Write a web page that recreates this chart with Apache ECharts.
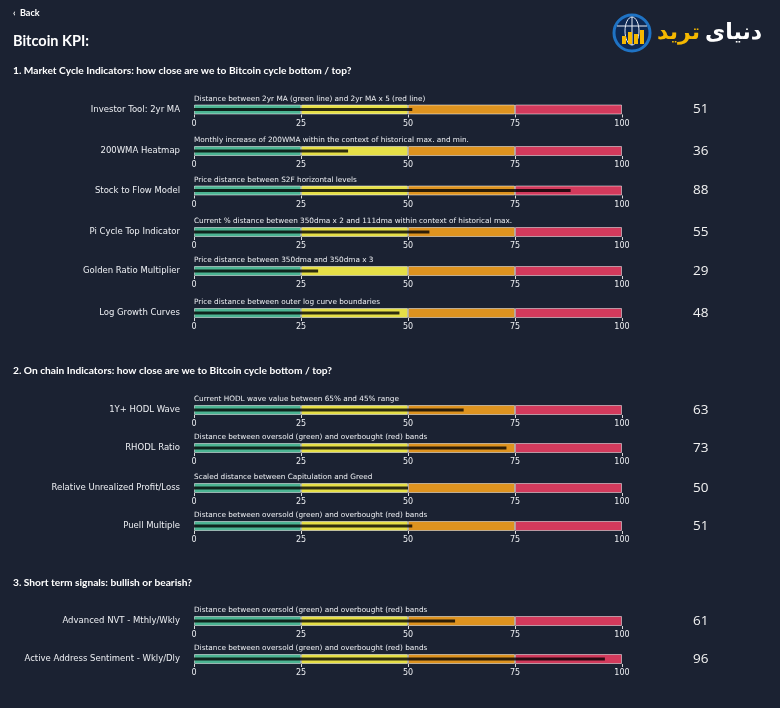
<!DOCTYPE html>
<html>
<head>
<meta charset="utf-8">
<script src="https://cdn.jsdelivr.net/npm/echarts@6/dist/echarts.min.js"></script>
<style>
html,body{margin:0;padding:0;background:#1b2232;}
#c{width:780px;height:708px;}
</style>
</head>
<body>
<div id="c"></div>
<script>
// ---- data ----
const categories = [
  'Investor Tool: 2yr MA', '200WMA Heatmap', 'Stock to Flow Model', 'Pi Cycle Top Indicator',
  'Golden Ratio Multiplier', 'Log Growth Curves',
  '1Y+ HODL Wave', 'RHODL Ratio', 'Relative Unrealized Profit/Loss', 'Puell Multiple',
  'Advanced NVT - Mthly/Wkly', 'Active Address Sentiment - Wkly/Dly'
];
const descriptions = [
  'Distance between 2yr MA (green line) and 2yr MA x 5 (red line)',
  'Monthly increase of 200WMA within the context of historical max. and min.',
  'Price distance between S2F horizontal levels',
  'Current % distance between 350dma x 2 and 111dma within context of historical max.',
  'Price distance between 350dma and 350dma x 3',
  'Price distance between outer log curve boundaries',
  'Current HODL wave value between 65% and 45% range',
  'Distance between oversold (green) and overbought (red) bands',
  'Scaled distance between Capitulation and Greed',
  'Distance between oversold (green) and overbought (red) bands',
  'Distance between oversold (green) and overbought (red) bands',
  'Distance between oversold (green) and overbought (red) bands'
];
const values = [51, 36, 88, 55, 29, 48, 63, 73, 50, 51, 61, 96];
const bandEdges = [0, 25, 50, 75, 100];
const tickLabels = ['0', '25', '50', '75', '100'];
const sectionTitles = [
  '1. Market Cycle Indicators: how close are we to Bitcoin cycle bottom / top?',
  '2. On chain Indicators: how close are we to Bitcoin cycle bottom / top?',
  '3. Short term signals: bullish or bearish?'
];

// ---- layout / style ----
const rowCenters = [109.5, 151, 190.5, 232, 271, 313, 410, 448, 488, 526, 621, 659];
const sectionY = [72, 372, 584];
const bandColors = ['#4cb593', '#e6df47', '#de931f', '#d33a5c'];
const txt = '#eceef2';

const grid = [], xAxis = [], yAxis = [], series = [];
rowCenters.forEach((c, i) => {
  grid.push({left: 194, width: 428, top: c - 5, height: 10});
  xAxis.push({
    gridIndex: i, type: 'value', min: 0, max: 100, interval: 25,
    axisLine: {show: false}, splitLine: {show: false},
    axisTick: {show: true, length: 3, lineStyle: {color: '#d8d8d8', width: 1}},
    axisLabel: {color: txt, fontSize: 8, margin: 5, fontFamily: 'DejaVu Sans',
      formatter: v => tickLabels[bandEdges.indexOf(v)]}
  });
  yAxis.push({
    gridIndex: i, type: 'category', data: [categories[i]], position: 'left',
    axisLine: {show: false}, axisTick: {show: false},
    axisLabel: {color: txt, fontSize: 8.5, margin: 14, fontFamily: 'DejaVu Sans'},
    name: descriptions[i], nameLocation: 'end', nameGap: 2,
    nameTextStyle: {align: 'left', verticalAlign: 'bottom', color: txt, fontSize: 7.3,
      fontFamily: 'DejaVu Sans', padding: [0, 0, 0, 0]}
  });
  yAxis.push({
    gridIndex: i, type: 'category', data: [String(values[i])], position: 'right',
    axisLine: {show: false}, axisTick: {show: false},
    axisLabel: {color: '#f2f2f2', fontSize: 13.5, margin: 71, fontFamily: 'Open Sans'}
  });
  for (let k = 1; k < bandEdges.length; k++) {
    series.push({
      type: 'bar', xAxisIndex: i, yAxisIndex: 2 * i, stack: 'band' + i,
      data: [bandEdges[k] - bandEdges[k - 1]], barWidth: 10, silent: true,
      itemStyle: {color: bandColors[k - 1], borderColor: 'rgba(255,255,255,0.5)', borderWidth: 1},
      z: 2
    });
  }
  series.push({
    type: 'bar', xAxisIndex: i, yAxisIndex: 2 * i + 1, data: [values[i]],
    barWidth: 3, silent: true, itemStyle: {color: 'rgba(0,0,0,0.8)'}, z: 4
  });
});

const graphic = [
  {type: 'text', left: 13, top: 9, style: {text: '‹  Back', fill: '#fff', font: 'bold 9px Lato'}},
  {type: 'text', left: 13, top: 34, style: {text: 'Bitcoin KPI:', fill: '#fff', font: 'bold 14.5px Lato'}},
];
sectionTitles.forEach((t, j) => graphic.push(
  {type: 'text', left: 13, top: sectionY[j] - 6, style: {text: t, fill: '#fff', font: 'bold 10.2px Lato'}}
));
// logo
graphic.push(
  {type: 'circle', shape: {cx: 632, cy: 33, r: 18}, style: {fill: '#0e2852', stroke: '#1f73c4', lineWidth: 3}},
  {type: 'ellipse', shape: {cx: 632, cy: 31, rx: 7, ry: 14}, style: {fill: 'none', stroke: '#e8eef8', lineWidth: 1}},
  {type: 'line', shape: {x1: 617, y1: 26, x2: 647, y2: 26}, style: {stroke: '#e8eef8', lineWidth: 1}},
  {type: 'line', shape: {x1: 632, y1: 17, x2: 632, y2: 45}, style: {stroke: '#e8eef8', lineWidth: 1}},
  {type: 'rect', shape: {x: 622, y: 36, width: 4, height: 8}, style: {fill: '#f5b800'}},
  {type: 'rect', shape: {x: 628, y: 32, width: 4, height: 12}, style: {fill: '#f5b800'}},
  {type: 'rect', shape: {x: 634, y: 34, width: 4, height: 10}, style: {fill: '#f5b800'}},
  {type: 'rect', shape: {x: 640, y: 30, width: 4, height: 14}, style: {fill: '#f5b800'}},
  {type: 'text', right: 18, top: 22, style: {text: 'دنیای', fill: '#ffffff', font: 'bold 22px "DejaVu Sans"'}},
  {type: 'text', right: 80, top: 22, style: {text: 'ترید', fill: '#f5b800', font: 'bold 22px "DejaVu Sans"'}}
);

const chart = echarts.init(document.getElementById('c'), null, {renderer: 'canvas'});
chart.setOption({
  backgroundColor: '#1b2232',
  animation: false,
  grid, xAxis, yAxis, series, graphic
});
</script>
</body>
</html>
